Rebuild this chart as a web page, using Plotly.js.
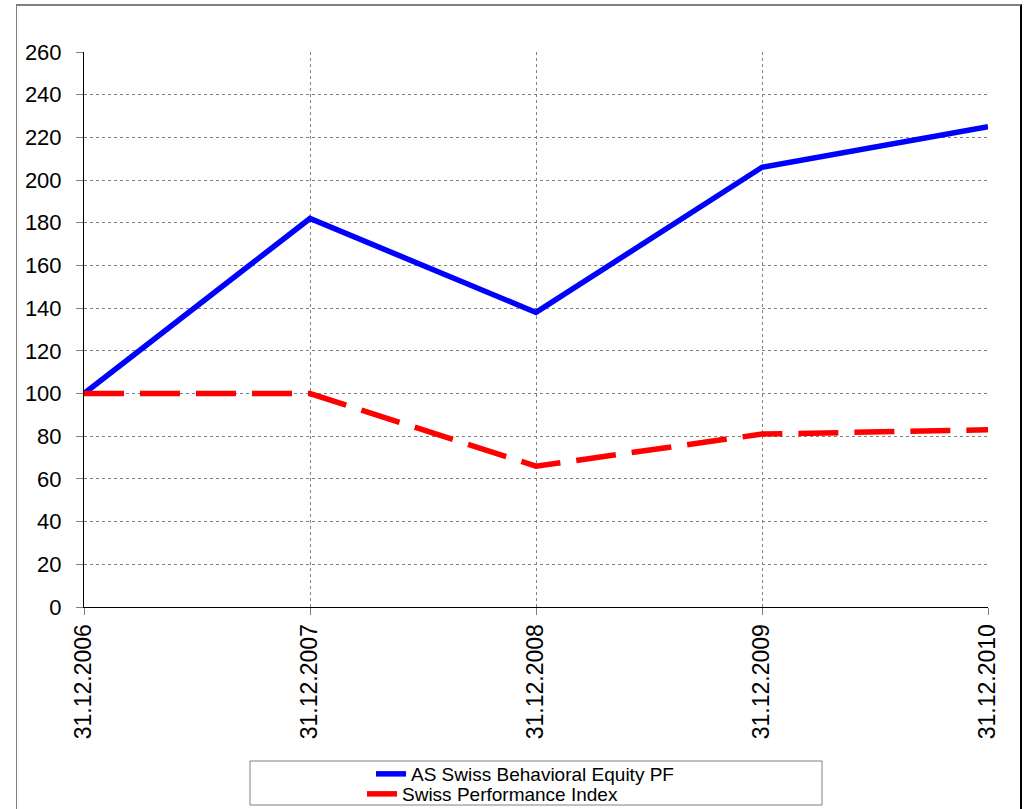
<!DOCTYPE html>
<html>
<head>
<meta charset="utf-8">
<script src="https://cdn.plot.ly/plotly-3.0.1.min.js"></script>
<style>
  html, body { margin: 0; padding: 0; background: #fff; }
  #chart { width: 1026px; height: 809px; }
  #frame { position: absolute; left: 16px; top: 4px; width: 1006px; height: 820px;
           border-top: 2px solid #808080; border-left: 1px solid #808080; border-right: 2px solid #000;
           pointer-events: none; box-sizing: border-box; }
</style>
</head>
<body>
<div id="chart"></div>
<div id="frame"></div>
<script>
const categories = ["31.12.2006", "31.12.2007", "31.12.2008", "31.12.2009", "31.12.2010"];
const seriesNames = ["AS Swiss Behavioral Equity PF", "Swiss Performance Index"];
const behavioralPF = [100, 182, 138, 206, 225];
const spiIndex = [100, 100, 66, 81, 83];

const font = "Arial, 'Liberation Sans', sans-serif";

const traces = [
  { x: categories, y: behavioralPF, name: seriesNames[0], type: "scatter", mode: "lines",
    line: { color: "#0000FF", width: 5.5 }, legend: "legend" },
  { x: categories, y: spiIndex, name: seriesNames[1], type: "scatter", mode: "lines",
    line: { color: "#FF0000", width: 5.5, dash: "40px,16px" }, legend: "legend2" }
];

const W = 904, H = 555, L = 84, T = 52;
const px = v => (v - L) / W;
const py = v => -(v - (T + H)) / H;

const legendBase = {
  xanchor: "left", yanchor: "middle",
  orientation: "v", bgcolor: "rgba(0,0,0,0)", borderwidth: 0,
  font: { family: font, size: 19, color: "#000" }
};

const layout = {
  width: 1026, height: 809,
  margin: { l: L, r: 1026 - L - W, t: T, b: 809 - T - H, autoexpand: false },
  paper_bgcolor: "#fff", plot_bgcolor: "#fff",
  font: { family: font, size: 22, color: "#000" },
  showlegend: true,
  legend: Object.assign({}, legendBase, { x: px(371), y: py(774) }),
  legend2: Object.assign({}, legendBase, { x: px(362), y: py(794) }),
  xaxis: {
    type: "category", range: [0, 4], automargin: false,
    showline: true, linecolor: "#000", linewidth: 1,
    showgrid: true, gridcolor: "#808080", griddash: "dot", gridwidth: 1,
    ticks: "outside", ticklen: 7, tickcolor: "#808080",
    tickangle: -90, tickfont: { family: font, size: 23, color: "#000" },
    zeroline: false, fixedrange: true
  },
  yaxis: {
    range: [0, 260], dtick: 20, tick0: 0, automargin: false,
    showline: true, linecolor: "#000", linewidth: 1,
    showgrid: true, gridcolor: "#808080", griddash: "dot", gridwidth: 1,
    ticks: "outside", ticklen: 7, tickcolor: "#808080", ticklabelstandoff: 10,
    tickfont: { family: font, size: 22, color: "#000" },
    zeroline: false, fixedrange: true
  },
  shapes: [
    { type: "rect", xref: "paper", yref: "paper",
      x0: px(250), x1: px(822), y0: py(805), y1: py(761),
      line: { color: "#808080", width: 1 }, fillcolor: "rgba(0,0,0,0)" }
  ]
};

Plotly.newPlot("chart", traces, layout, { displayModeBar: false, staticPlot: true });
</script>
</body>
</html>
